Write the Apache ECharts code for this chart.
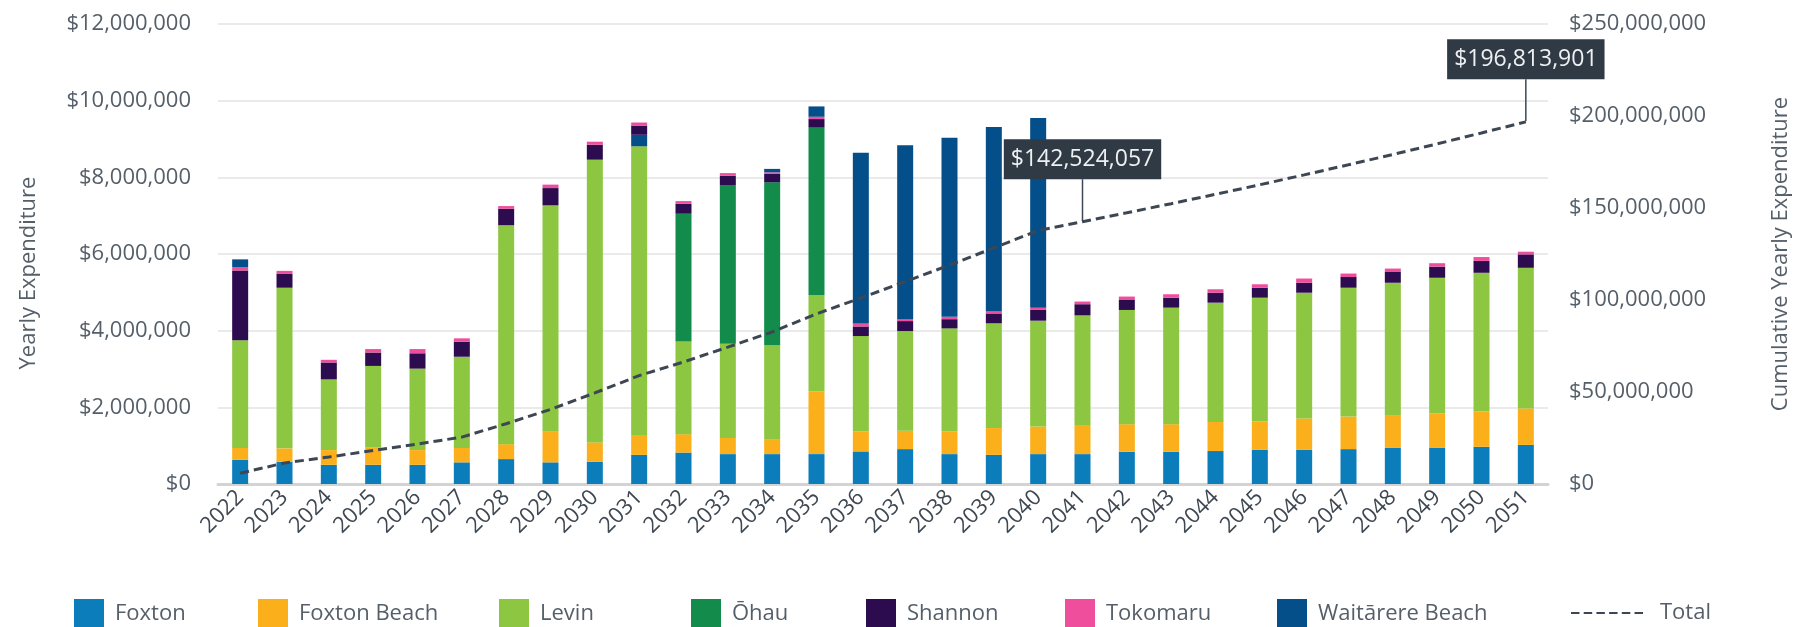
<!DOCTYPE html>
<html>
<head>
<meta charset="utf-8">
<script src="https://cdn.jsdelivr.net/npm/echarts@6/dist/echarts.min.js"></script>
<style>
  html, body { margin: 0; padding: 0; background: #fff; }
  #chart { width: 1800px; height: 627px; }
</style>
</head>
<body>
<div id="chart"></div>
<script>
// values in millions of dollars
const years = ['2022', '2023', '2024', '2025', '2026', '2027', '2028', '2029', '2030', '2031',
  '2032', '2033', '2034', '2035', '2036', '2037', '2038', '2039', '2040', '2041',
  '2042', '2043', '2044', '2045', '2046', '2047', '2048', '2049', '2050', '2051'];

const foxton = [0.63, 0.58, 0.50, 0.50, 0.50, 0.565, 0.65, 0.565, 0.58, 0.76,
  0.82, 0.78, 0.78, 0.78, 0.85, 0.91, 0.78, 0.76, 0.78, 0.78,
  0.84, 0.84, 0.86, 0.89, 0.89, 0.91, 0.95, 0.95, 0.97, 1.02];
const foxtonBeach = [0.31, 0.35, 0.385, 0.46, 0.385, 0.375, 0.39, 0.795, 0.505, 0.52,
  0.48, 0.42, 0.39, 1.63, 0.52, 0.48, 0.59, 0.70, 0.72, 0.74,
  0.72, 0.72, 0.76, 0.74, 0.82, 0.85, 0.83, 0.89, 0.92, 0.95];
const levin = [2.81, 4.19, 1.845, 2.12, 2.125, 2.38, 5.71, 5.91, 7.375, 7.53,
  2.42, 2.46, 2.45, 2.52, 2.49, 2.60, 2.69, 2.73, 2.76, 2.88,
  2.98, 3.04, 3.11, 3.23, 3.28, 3.36, 3.47, 3.54, 3.62, 3.67];
const ohau = [0, 0, 0, 0, 0, 0, 0, 0, 0, 0,
  3.33, 4.14, 4.25, 4.38, 0, 0, 0, 0, 0, 0,
  0, 0, 0, 0, 0, 0, 0, 0, 0, 0];
// 2031 Waitārere segment sits below Shannon in the source
const waitarereLow = [0, 0, 0, 0, 0, 0, 0, 0, 0, 0.30,
  0, 0, 0, 0, 0, 0, 0, 0, 0, 0,
  0, 0, 0, 0, 0, 0, 0, 0, 0, 0];
const shannon = [1.82, 0.36, 0.44, 0.35, 0.40, 0.39, 0.43, 0.45, 0.39, 0.24,
  0.26, 0.24, 0.22, 0.21, 0.25, 0.26, 0.24, 0.26, 0.28, 0.29,
  0.26, 0.26, 0.26, 0.26, 0.26, 0.28, 0.28, 0.29, 0.31, 0.35];
const tokomaru = [0.09, 0.08, 0.07, 0.09, 0.11, 0.09, 0.07, 0.09, 0.08, 0.08,
  0.07, 0.07, 0.04, 0.06, 0.08, 0.05, 0.06, 0.05, 0.06, 0.07,
  0.09, 0.09, 0.09, 0.09, 0.11, 0.09, 0.09, 0.09, 0.10, 0.07];
const waitarere = [0.20, 0, 0, 0, 0, 0, 0, 0, 0, 0,
  0, 0, 0.09, 0.27, 4.45, 4.54, 4.67, 4.81, 4.95, 0,
  0, 0, 0, 0, 0, 0, 0, 0, 0, 0];
const total = [5.86, 11.42, 14.66, 18.18, 21.70, 25.50, 32.75, 40.56, 49.49, 58.92,
  66.30, 74.41, 82.63, 92.48, 101.12, 109.96, 118.99, 128.30, 137.80, 142.524057,
  147.41, 152.36, 157.44, 162.64, 168.00, 173.49, 179.10, 184.86, 190.80, 196.813901];
const calloutYears = ['2041', '2051'];

const leftTicks = { min: 0, max: 12, interval: 2 };
const rightTicks = { min: 0, max: 250, interval: 50 };

const FONT = 'Open Sans';
const TEXT = '#555f69';
const LINE = '#3d4753';

const money = v => '$' + Math.round(v * 1e6).toLocaleString('en-US');

function barSeries(name, data, color) {
  return {
    name,
    type: 'bar',
    stack: 'spend',
    barWidth: 16,
    data,
    itemStyle: { color },
  };
}

const chart = echarts.init(document.getElementById('chart'));

const swatchLegend = (name, left) => ({
  data: [name],
  left,
  top: 594,
  icon: 'rect',
  itemWidth: 30,
  itemHeight: 30,
  itemGap: 0,
  textStyle: { color: TEXT, fontSize: 22, fontFamily: FONT, padding: [0, 0, 0, 6] },
});

const dashIcon = 'path://M0 0h8v2h-8z M12 0h8v2h-8z M24 0h8v2h-8z M36 0h8v2h-8z M48 0h8v2h-8z M60 0h8v2h-8z';

chart.setOption({
  animation: false,
  grid: { left: 218, right: 252, top: 24, bottom: 143 },
  legend: [
    swatchLegend('Foxton', 69),
    swatchLegend('Foxton Beach', 253),
    swatchLegend('Levin', 494),
    swatchLegend('Ōhau', 686),
    swatchLegend('Shannon', 861),
    swatchLegend('Tokomaru', 1060),
    swatchLegend('Waitārere Beach', 1272),
    {
      data: [{ name: 'Total', icon: dashIcon }],
      left: 1566,
      top: 597,
      itemWidth: 72,
      itemHeight: 30,
      itemStyle: { color: LINE, opacity: 1 },
      textStyle: { color: TEXT, fontSize: 22, fontFamily: FONT, padding: [0, 0, 0, 12] },
    },
  ],
  xAxis: {
    type: 'category',
    data: years,
    axisLine: { lineStyle: { color: '#d3d3d3', width: 3 } },
    axisTick: { show: false },
    axisLabel: {
      rotate: 45,
      margin: 10,
      color: '#3f4852',
      fontSize: 22,
      fontFamily: FONT,
      interval: 0,
    },
  },
  yAxis: [
    {
      type: 'value',
      ...leftTicks,
      name: 'Yearly Expenditure',
      nameLocation: 'middle',
      nameRotate: 90,
      nameGap: 178,
      nameTextStyle: { color: TEXT, fontSize: 22, fontFamily: FONT, padding: [0, 38, 0, 0] },
      axisLine: { show: false },
      axisTick: { show: false },
      splitLine: { lineStyle: { color: '#e3e3e3', width: 1.5 } },
      axisLabel: { color: TEXT, fontSize: 22, fontFamily: FONT, margin: 27, formatter: money },
    },
    {
      type: 'value',
      ...rightTicks,
      name: 'Cumulative Yearly Expenditure',
      nameLocation: 'middle',
      nameRotate: 90,
      nameGap: 222,
      nameTextStyle: { color: TEXT, fontSize: 22, fontFamily: FONT },
      axisLine: { show: false },
      axisTick: { show: false },
      splitLine: { show: false },
      axisLabel: { color: TEXT, fontSize: 22, fontFamily: FONT, margin: 21, formatter: money },
    },
  ],
  series: [
    barSeries('Foxton', foxton, '#0b7dbb'),
    barSeries('Foxton Beach', foxtonBeach, '#fbb01b'),
    barSeries('Levin', levin, '#8dc641'),
    barSeries('Ōhau', ohau, '#138b4b'),
    barSeries('Waitārere Beach', waitarereLow, '#044f8a'),
    barSeries('Shannon', shannon, '#2d0b4f'),
    barSeries('Tokomaru', tokomaru, '#ef4e9c'),
    barSeries('Waitārere Beach', waitarere, '#044f8a'),
    {
      name: 'Total',
      type: 'line',
      yAxisIndex: 1,
      symbol: 'circle',
      symbolSize: 1,
      showSymbol: true,
      z: 5,
      lineStyle: { color: LINE, width: 3, type: [9, 5] },
      itemStyle: { color: LINE, opacity: 0 },
      data: total.map((v, i) => calloutYears.includes(years[i])
        ? { value: v, label: { show: true } }
        : v),
      label: {
        show: false,
        position: 'top',
        distance: 4,
        opacity: 1,
        formatter: p => money(p.value),
        backgroundColor: '#2f3a45',
        color: '#eef0f2',
        fontSize: 23,
        fontFamily: FONT,
        padding: [9, 7, 8, 7],
      },
      labelLayout: { dy: -38 },
      labelLine: { show: true, lineStyle: { color: LINE, width: 1.5, opacity: 1 } },
    },
  ],
});
</script>
</body>
</html>
